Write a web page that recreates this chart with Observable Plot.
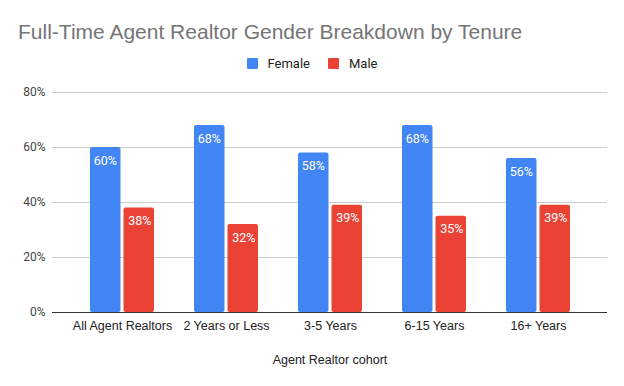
<!DOCTYPE html>
<html>
<head>
<meta charset="utf-8">
<script src="https://cdn.jsdelivr.net/npm/d3@7"></script>
<script src="https://cdn.jsdelivr.net/npm/@observablehq/plot@0.6"></script>
<style>
  body { margin: 0; background: #fff; font-family: Roboto, sans-serif; }
  #title { position: absolute; left: 18px; top: 20px; font-size: 21px; font-family: "Liberation Sans", Arial, sans-serif; color: #757575; white-space: nowrap; }
  #legend { position: absolute; top: 56px; left: 0; width: 624px; display: flex; justify-content: center; gap: 18px; font-size: 13px; color: #222; }
  #legend span.item { display: flex; align-items: center; gap: 10px; }
  #legend span.sw { width: 11px; height: 11px; display: inline-block; border-radius: 1px; }
  #chart { position: absolute; top: 78px; left: 0; }
</style>
</head>
<body>
<div id="title">Full-Time Agent Realtor Gender Breakdown by Tenure</div>
<div id="legend"></div>
<div id="chart"></div>
<script>
const categories = ["All Agent Realtors", "2 Years or Less", "3-5 Years", "6-15 Years", "16+ Years"];
const series = ["Female", "Male"];
const female = [0.60, 0.68, 0.58, 0.68, 0.56];
const male = [0.38, 0.32, 0.39, 0.35, 0.39];
const colors = ["#4285F4", "#EA4335"];
const yTicks = [0, 0.2, 0.4, 0.6, 0.8];

const legend = document.getElementById("legend");
series.forEach((s, i) => {
  const it = document.createElement("span");
  it.className = "item";
  it.innerHTML = `<span class="sw" style="background:${colors[i]}"></span><span>${s}</span>`;
  legend.appendChild(it);
});

const fData = categories.map((c, i) => ({category: c, value: female[i]}));
const mData = categories.map((c, i) => ({category: c, value: male[i]}));
const pct = d3.format(".0%");

const half = 33.5;
const chart = Plot.plot({
  width: 624,
  height: 308,
  marginTop: 14,
  marginBottom: 74,
  marginLeft: 52,
  marginRight: 17,
  style: { fontFamily: "Roboto, sans-serif", fontSize: "12px", color: "#444", background: "#fff" },
  x: { domain: categories, paddingInner: 0.385, paddingOuter: 0.36, label: null, tickSize: 0, tickPadding: 9 },
  y: { domain: [0, 0.8], ticks: yTicks, tickFormat: pct, label: null, tickSize: 0, tickPadding: 7 },
  marks: [
    Plot.gridY(yTicks.slice(1), { stroke: "#cccccc", strokeOpacity: 1 }),
    Plot.barY(fData, { x: "category", y: "value", fill: colors[0], insetRight: half, rx: 2 }),
    Plot.barY(mData, { x: "category", y: "value", fill: colors[1], insetLeft: half, rx: 2 }),
    Plot.ruleY([0], { stroke: "#333" }),
    Plot.text(fData, { x: "category", y: "value", text: d => pct(d.value), dx: -half / 2 - 0.5, dy: 13, fill: "#fff", fontSize: 12.5 }),
    Plot.text(mData, { x: "category", y: "value", text: d => pct(d.value), dx: half / 2 + 0.5, dy: 13, fill: "#fff", fontSize: 12.5 }),
    Plot.text(["Agent Realtor cohort"], { frameAnchor: "bottom", dy: 51, fill: "#222", fontSize: 12.5, fontFamily: "Liberation Sans, Arial, sans-serif" })
  ]
});
chart.querySelectorAll("[aria-label='x-axis tick label'] text, [aria-label='x-axis'] text").forEach(t => {
  t.setAttribute("fill", "#222");
  t.setAttribute("font-family", "Liberation Sans, Arial, sans-serif");
  t.setAttribute("font-size", "12.5");
});
document.getElementById("chart").appendChild(chart);
</script>
</body>
</html>
